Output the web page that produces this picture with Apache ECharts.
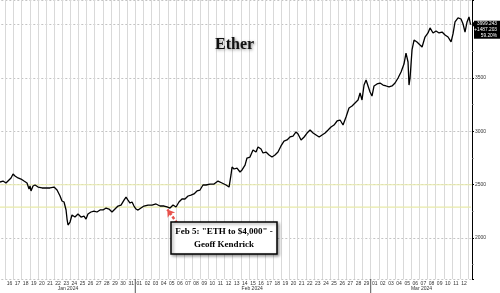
<!DOCTYPE html>
<html><head><meta charset="utf-8">
<script src="https://cdn.jsdelivr.net/npm/echarts@6/dist/echarts.min.js"></script>
<style>html,body{margin:0;padding:0;background:#fff}#c{width:500px;height:293px}</style>
</head><body><div id="c"></div>
<script>
// Day tick labels (Jan 16 .. Mar 12, 2024); x value = days since Jan 16
const dayLabels = ['16','17','18','19','20','21','22','23','24','25','26','27','28','29','30','31',
  '01','02','03','04','05','06','07','08','09','10','11','12','13','14','15','16','17','18','19','20','21','22','23','24','25','26','27','28','29',
  '01','02','03','04','05','06','07','08','09','10','11','12'];
const monthLabels = ['Jan 2024','Feb 2024','Mar 2024'];
const monthLabelAt = [7.7, 30.4, 51.26];
const monthStarts = [16, 45];
const refLevels = [2500, 2290];
const refEnds = [57.48, 57.35];
const lastInfo = ['3999.243','+1487.203','59.20%'];
const lastValue = 3999.243;
const chartTitle = 'Ether';
const noteLines = ['Feb 5: "ETH to $4,000" -','Geoff Kendrick'];
const noteTip = [19.95, 2268];
const noteTail = [21.15, 2140];
// [day, price]
const ethPrice = [
[-0.67,2525],[-0.3,2534],[0.07,2516],[0.44,2544],[0.69,2563],[0.94,2600],[1.18,2581],[1.55,2563],[1.92,2553],[2.29,2534],
[2.66,2516],[2.91,2459],[3.03,2488],[3.15,2441],[3.4,2488],[3.65,2497],[4.02,2478],[4.51,2469],[5.0,2469],[5.49,2469],
[5.99,2478],[6.36,2450],[6.73,2394],[6.97,2347],[7.22,2338],[7.47,2263],[7.59,2178],[7.71,2122],[7.96,2150],[8.2,2216],
[8.57,2197],[8.94,2225],[9.31,2197],[9.68,2206],[9.93,2178],[10.17,2225],[10.54,2244],[10.91,2253],[11.28,2244],[11.66,2263],
[12.03,2263],[12.4,2281],[12.76,2272],[13.13,2244],[13.5,2272],[13.87,2300],[14.24,2309],[14.61,2356],[14.86,2384],[15.1,2356],
[15.35,2328],[15.6,2338],[15.84,2300],[16.09,2272],[16.34,2262],[16.7,2281],[17.07,2300],[17.57,2309],[18.06,2309],[18.55,2319],
[19.05,2300],[19.54,2300],[19.91,2291],[20.28,2281],[20.65,2309],[21.02,2291],[21.38,2338],[21.75,2366],[22.12,2366],[22.5,2394],
[22.86,2403],[23.23,2413],[23.6,2441],[23.97,2450],[24.34,2497],[24.71,2497],[25.2,2506],[25.7,2506],[26.19,2534],[26.68,2516],
[27.18,2497],[27.55,2478],[27.79,2591],[27.92,2666],[28.16,2647],[28.53,2656],[28.9,2619],[29.15,2638],[29.52,2684],[29.76,2750],
[30.13,2759],[30.5,2825],[30.87,2806],[31.12,2853],[31.49,2834],[31.73,2797],[32.1,2806],[32.48,2778],[32.84,2759],[33.21,2778],
[33.58,2806],[33.95,2863],[34.32,2909],[34.69,2919],[35.06,2947],[35.43,2956],[35.8,2994],[36.05,2975],[36.42,2919],[36.8,2947],
[37.16,2984],[37.53,3012],[37.9,2984],[38.27,2966],[38.65,2947],[39.01,2966],[39.38,2984],[39.75,3012],[40.11,3041],[40.48,3059],
[40.86,3097],[41.23,3106],[41.59,3059],[41.96,3134],[42.33,3219],[42.7,3237],[43.07,3266],[43.44,3294],[43.69,3359],[43.93,3294],
[44.18,3434],[44.43,3481],[44.67,3463],[44.92,3369],[45.16,3331],[45.41,3425],[45.78,3444],[46.15,3453],[46.52,3434],[46.9,3425],
[47.26,3416],[47.63,3425],[48.0,3453],[48.37,3500],[48.74,3556],[49.1,3631],[49.35,3734],[49.6,3650],[49.72,3434],[49.85,3500],
[50.09,3763],[50.34,3856],[50.7,3838],[51.08,3809],[51.33,3791],[51.69,3884],[52.06,3922],[52.31,3969],[52.68,3922],[53.05,3941],
[53.42,3922],[53.79,3931],[54.16,3903],[54.53,3884],[54.9,3838],[55.14,3913],[55.39,4025],[55.76,4063],[56.13,4053],[56.38,4006],
[56.62,3931],[56.87,4025],[57.11,4072],[57.3,3999.243]
];

const chart = echarts.init(document.getElementById('c'), null, {renderer:'canvas'});
const FONT = 'Liberation Sans';
chart.setOption({
  animation:false,
  backgroundColor:'#ffffff',
  grid:{left:-2.7,right:28,top:0,bottom:14,outerBoundsMode:'none',containLabel:false},
  xAxis:{type:'value',min:-1,max:57.48,interval:1,
    axisLine:{show:false},axisTick:{show:false},
    splitLine:{show:true,lineStyle:{color:'#d9d9d9',width:1,type:'solid'}},
    axisLabel:{fontSize:5,color:'#333',margin:2,padding:[0,0,0,8],fontFamily:FONT,
      showMinLabel:true,showMaxLabel:false,hideOverlap:false,
      formatter:v=>(Number.isInteger(v)&&v>=0&&v<dayLabels.length)?dayLabels[v]:''}},
  yAxis:{type:'value',position:'right',min:1616,max:4231,splitNumber:5,scale:true,
    axisLine:{show:true,onZero:false,lineStyle:{color:'#000',width:1}},
    axisTick:{show:true,length:2,lineStyle:{color:'#000'}},
    minorTick:{show:true,splitNumber:2,length:1.5,lineStyle:{color:'#666'}},
    axisLabel:{fontSize:5,color:'#333',margin:3,fontFamily:FONT,showMinLabel:false,showMaxLabel:false,
      formatter:v=>String(v)},
    splitLine:{show:true,lineStyle:{color:'#c4c4c4',type:[2,2],width:1}}},
  series:[{
    type:'line',data:ethPrice,symbol:'none',showSymbol:false,lineStyle:{color:'#000',width:1.3},z:5,
    markLine:{silent:true,symbol:'none',label:{show:false},animation:false,
      data:[
        [{coord:noteTail,symbol:'none'},{coord:noteTip,symbol:'arrow',symbolSize:7,
          lineStyle:{color:'#e8524c',width:2.5,type:[3,2]},itemStyle:{color:'#e8524c'}}]
      ]}
  }]
});

function px(d,v){return chart.convertToPixel({gridIndex:0},[d,v]);}
const g = [];
refLevels.forEach((v,i)=>{
  const a = px(-1,v), b = px(refEnds[i],v);
  g.push({type:'line',z:3,shape:{x1:a[0],y1:a[1],x2:b[0],y2:b[1]},
    style:{stroke:'#e7eaa8',lineWidth:1.1}});
});
g.push({type:'text',left:215,top:37,z:20,style:{text:chartTitle,font:'bold 16px "Liberation Serif"',fill:'#111',
  textShadowColor:'rgba(0,0,0,0.45)',textShadowBlur:3,textShadowOffsetX:1,textShadowOffsetY:1}});
monthLabels.forEach((m,i)=>{
  const p = px(monthLabelAt[i],2000);
  g.push({type:'text',x:p[0],y:286.5,z:20,style:{text:m,font:'5px "'+FONT+'"',fill:'#333',align:'center',verticalAlign:'top'}});
});
monthStarts.forEach(d=>{
  const p = px(d,2000);
  g.push({type:'line',z:20,shape:{x1:p[0],y1:279,x2:p[0],y2:293},style:{stroke:'#555',lineWidth:1}});
});
// annotation box
g.push({type:'rect',z:30,shape:{x:171,y:222,width:106,height:32},
  style:{fill:'#fff',stroke:'#000',lineWidth:1.5,shadowBlur:3,shadowColor:'rgba(0,0,0,0.4)',shadowOffsetX:1.5,shadowOffsetY:1.5}});
g.push({type:'text',z:31,x:224,y:232,style:{text:noteLines[0],font:'bold 9px "Liberation Serif"',fill:'#000',align:'center',verticalAlign:'middle'}});
g.push({type:'text',z:31,x:224,y:245,style:{text:noteLines[1],font:'bold 9px "Liberation Serif"',fill:'#000',align:'center',verticalAlign:'middle'}});
// last value box
const lp = px(57.48,lastValue);
const bx = 474, by = lp[1]-4;
g.push({type:'polygon',z:30,shape:{points:[[bx,by+1],[bx-2.5,by+3.5],[bx,by+6]]},style:{fill:'#000'}});
g.push({type:'rect',z:30,shape:{x:bx,y:by,width:26,height:18},style:{fill:'#000'}});
lastInfo.forEach((t,i)=>{
  g.push({type:'text',z:31,x:497,y:by+3.3+i*5.8,style:{text:t,font:'4.8px "'+FONT+'"',fill:'#fff',align:'right',verticalAlign:'middle'}});
});
chart.setOption({graphic:g});
</script></body></html>
